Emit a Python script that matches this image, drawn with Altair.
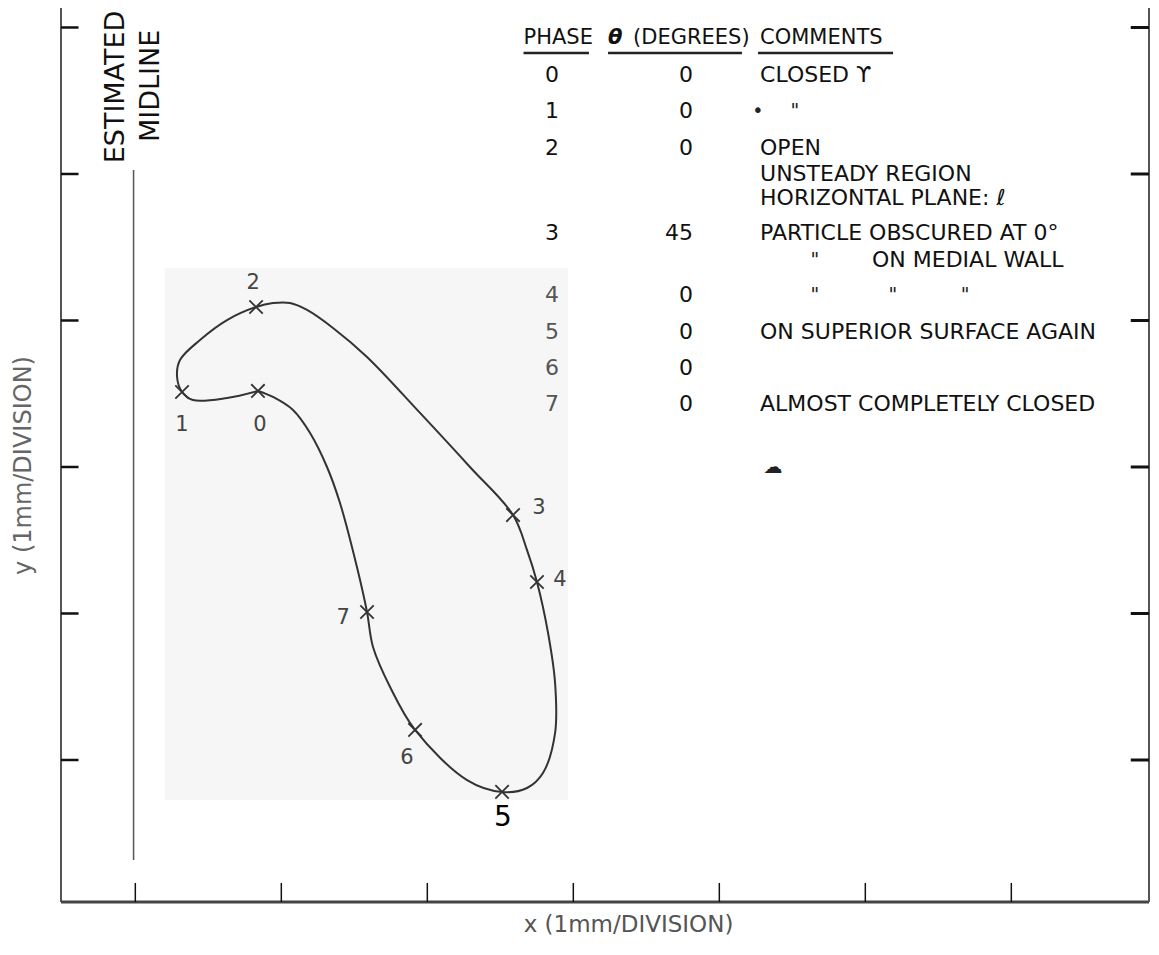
import altair as alt
import pandas as pd

# ---------------- frame of the plot (in mm divisions) ----------------
X_MIN, X_MAX = -0.509, 6.943
Y_MIN, Y_MAX = 0.0307, 6.133

x_ticks = [0, 1, 2, 3, 4, 5, 6]
y_ticks = [1, 2, 3, 4, 5, 6]

# ---------------- traced closed trajectory (starts and ends at phase 0) ----------------
curve_x = [0.840, 0.628, 0.395, 0.320, 0.286, 0.306, 0.443, 0.628, 0.827, 0.943,
           1.060, 1.176, 1.354, 1.587, 1.950, 2.292, 2.587, 2.683,
           2.751, 2.827, 2.875, 2.875, 2.792, 2.683, 2.512, 2.272, 1.916, 1.745,
           1.628, 1.587, 1.518, 1.402, 1.313, 1.197, 1.080, 0.943, 0.840]
curve_y = [3.519, 3.471, 3.457, 3.512, 3.614, 3.730, 3.867, 4.003, 4.092, 4.119,
           4.119, 4.072, 3.949, 3.751, 3.369, 3.000, 2.672, 2.433,
           2.215, 1.867, 1.526, 1.184, 0.911, 0.809, 0.782, 0.863, 1.205, 1.498,
           1.771, 2.010, 2.317, 2.754, 3.000, 3.232, 3.389, 3.478, 3.519]

# ---------------- phases ----------------
phase_ids = ["0", "1", "2", "3", "4", "5", "6", "7"]
phase_x = [0.840, 0.320, 0.827, 2.587, 2.751, 2.512, 1.916, 1.587]
phase_y = [3.519, 3.512, 4.092, 2.672, 2.215, 0.782, 1.205, 2.010]
label_x = [0.854, 0.320, 0.807, 2.765, 2.909, 2.518, 1.861, 1.423]
label_y = [3.287, 3.287, 4.256, 2.720, 2.229, 0.604, 1.014, 1.969]

# ---------------- table ----------------
table_theta = ["0", "0", "0", "45", "0", "0", "0", "0"]
table_row_y = [5.676, 5.430, 5.177, 4.597, 4.174, 3.922, 3.676, 3.430]
table_phase_x = 2.854
table_theta_right = 3.820

header_text = ["PHASE", "(DEGREES)", "COMMENTS"]
header_x = [2.659, 3.409, 4.279]
header_y = 5.928
theta_symbol = "θ"
theta_symbol_x = 3.238
underline_x = [2.659, 3.238, 4.265]
underline_x2 = [3.107, 4.155, 5.190]
underline_y = 5.826

comment_text = ["CLOSED ϒ", "OPEN", "UNSTEADY REGION", "HORIZONTAL PLANE: ℓ",
                "PARTICLE OBSCURED AT 0°", "ON MEDIAL WALL",
                "ON SUPERIOR SURFACE AGAIN", "ALMOST COMPLETELY CLOSED"]
comment_x = [4.279, 4.279, 4.279, 4.279, 4.279, 5.046, 4.279, 4.279]
comment_y = [5.676, 5.177, 5.000, 4.836, 4.597, 4.413, 3.922, 3.430]

mark_text = ["•", '"', '"', '"', '"', '"', "☁"]
mark_x = [4.264, 4.518, 4.655, 4.655, 5.189, 5.683, 4.368]
mark_y = [5.430, 5.430, 4.413, 4.174, 4.174, 4.174, 3.000]

midline_x = -0.012
midline_y = [0.317, 5.027]
note_text = ["ESTIMATED", "MIDLINE"]
note_x = [-0.132, 0.1075]
note_y = [5.594, 5.601]

shade_x = [0.2034, 2.964]
shade_y = [0.727, 4.358]

FONT = "DejaVu Sans"
xs = alt.Scale(domain=[X_MIN, X_MAX], nice=False, zero=False)
ys = alt.Scale(domain=[Y_MIN, Y_MAX], nice=False, zero=False)

x_axis = alt.Axis(
    title="x (1mm/DIVISION)", domain=False, ticks=False, labels=False, grid=False,
    titleX=567, titleY=22, titleAlign="center", titleBaseline="middle",
    titleFont=FONT, titleFontSize=23, titleFontWeight="normal", titleColor="#555")
y_axis = alt.Axis(
    title="y (1mm/DIVISION)", domain=False, ticks=False, labels=False, grid=False,
    titleX=-38, titleY=457, titleAngle=270, titleAlign="center",
    titleBaseline="middle", titleFont=FONT, titleFontSize=24,
    titleFontWeight="normal", titleColor="#666")


def X(field):
    return alt.X(field, type="quantitative", scale=xs, axis=x_axis)


def Y(field):
    return alt.Y(field, type="quantitative", scale=ys, axis=y_axis)


# shaded panel
shade = alt.Chart(pd.DataFrame({"x": [shade_x[0]], "x2": [shade_x[1]],
                                "y": [shade_y[0]], "y2": [shade_y[1]]})).mark_rect(
    color="#f6f6f6").encode(x=X("x"), x2="x2", y=Y("y"), y2="y2")

# frame lines
frame_df = pd.DataFrame({
    "x": [X_MIN, X_MIN, X_MAX], "x2": [X_MIN, X_MAX, X_MAX],
    "y": [Y_MIN, Y_MIN, Y_MIN], "y2": [Y_MAX, Y_MIN, Y_MAX],
    "w": [2, 3, 2], "c": ["#555", "#444", "#555"]})
frame = alt.Chart(frame_df).mark_rule().encode(
    x=X("x"), x2="x2", y=Y("y"), y2="y2",
    strokeWidth=alt.StrokeWidth("w:Q", scale=None),
    color=alt.Color("c:N", scale=None))

# inward ticks
tick_rows = []
for t in x_ticks:
    tick_rows.append({"x": t, "x2": t, "y": Y_MIN, "y2": Y_MIN + 0.13, "w": 1.5})
for t in y_ticks:
    tick_rows.append({"x": X_MIN, "x2": X_MIN + 0.12, "y": t, "y2": t, "w": 2.5})
    tick_rows.append({"x": X_MAX - 0.125, "x2": X_MAX, "y": t, "y2": t, "w": 3})
ticks = alt.Chart(pd.DataFrame(tick_rows)).mark_rule(color="#111").encode(
    x=X("x"), x2="x2", y=Y("y"), y2="y2",
    strokeWidth=alt.StrokeWidth("w:Q", scale=None))

# estimated midline
midline = alt.Chart(pd.DataFrame({"x": [midline_x], "y": [midline_y[0]],
                                  "y2": [midline_y[1]]})).mark_rule(
    color="#555", strokeWidth=1.5).encode(x=X("x"), y=Y("y"), y2="y2")

notes = alt.Chart(pd.DataFrame({"x": note_x, "y": note_y, "t": note_text})).mark_text(
    font=FONT, fontSize=27, angle=270, align="center", baseline="middle",
    color="#111").encode(x=X("x"), y=Y("y"), text="t:N")

# trajectory
curve = alt.Chart(pd.DataFrame({"x": curve_x, "y": curve_y,
                                "i": list(range(len(curve_x)))})).mark_line(
    interpolate="catmull-rom", color="#333", strokeWidth=2).encode(
    x=X("x"), y=Y("y"), order="i:Q")

crosses = alt.Chart(pd.DataFrame({"x": phase_x, "y": phase_y, "id": phase_ids})).mark_point(
    shape="M -1 -1 L 1 1 M -1 1 L 1 -1", filled=False, size=180, strokeWidth=1.8,
    color="#333", opacity=1).encode(x=X("x"), y=Y("y"))

labels = alt.Chart(pd.DataFrame({"x": label_x, "y": label_y, "id": phase_ids})).mark_text(
    font=FONT, align="center", baseline="middle").encode(
    x=X("x"), y=Y("y"), text="id:N",
    color=alt.condition(alt.datum.id == "5", alt.value("#000"), alt.value("#444")),
    size=alt.condition(alt.datum.id == "5", alt.value(28), alt.value(21)))

# table
headers = alt.Chart(pd.DataFrame({"x": header_x, "y": [header_y] * 3,
                                  "t": header_text})).mark_text(
    font=FONT, fontSize=21, align="left", baseline="middle", color="#111").encode(
    x=X("x"), y=Y("y"), text="t:N")

theta_head = alt.Chart(pd.DataFrame({"x": [theta_symbol_x], "y": [header_y],
                                     "t": [theta_symbol]})).mark_text(
    font=FONT, fontSize=21, fontStyle="italic", fontWeight="bold", align="left",
    baseline="middle", color="#111").encode(x=X("x"), y=Y("y"), text="t:N")

underlines = alt.Chart(pd.DataFrame({"x": underline_x, "x2": underline_x2,
                                     "y": [underline_y] * 3})).mark_rule(
    color="#222", strokeWidth=2.5).encode(x=X("x"), x2="x2", y=Y("y"))

phase_col = alt.Chart(pd.DataFrame({"x": [table_phase_x] * 8, "y": table_row_y,
                                    "t": phase_ids})).mark_text(
    font=FONT, fontSize=22, align="center", baseline="middle").encode(
    x=X("x"), y=Y("y"), text="t:N",
    color=alt.condition("toNumber(datum.t) >= 4", alt.value("#555"), alt.value("#111")))

theta_col = alt.Chart(pd.DataFrame({"x": [table_theta_right] * 8, "y": table_row_y,
                                    "t": table_theta})).mark_text(
    font=FONT, fontSize=22, align="right", baseline="middle", color="#111").encode(
    x=X("x"), y=Y("y"), text="t:N")

comments = alt.Chart(pd.DataFrame({"x": comment_x, "y": comment_y,
                                   "t": comment_text})).mark_text(
    font=FONT, fontSize=22, align="left", baseline="middle", color="#111").encode(
    x=X("x"), y=Y("y"), text="t:N")

ditto = alt.Chart(pd.DataFrame({"x": mark_x, "y": mark_y, "t": mark_text})).mark_text(
    font=FONT, fontSize=19, align="center", baseline="middle", color="#222").encode(
    x=X("x"), y=Y("y"), text="t:N")

chart = alt.layer(
    shade, frame, ticks, midline, notes, curve, crosses, labels,
    headers, theta_head, underlines, phase_col, theta_col, comments, ditto
).properties(
    width=1088, height=894,
    autosize=alt.AutoSizeParams(type="none"),
    padding={"left": 53, "top": 0, "right": 2, "bottom": 38},
    background="white",
).configure_view(stroke=None)

chart.save("out.html", embed_options={"renderer": "svg", "actions": False})
